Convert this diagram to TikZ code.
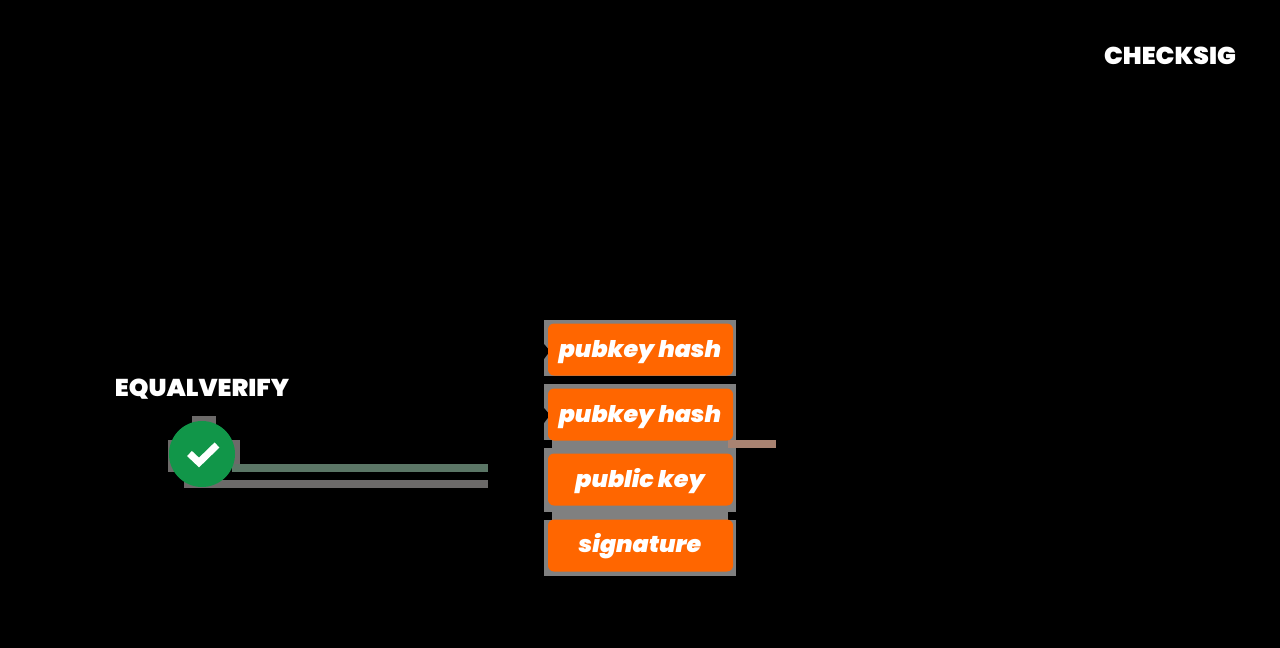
\documentclass[tikz,border=0pt]{standalone}
\usepackage{fontspec}
\newfontfamily\popf{Poppins}[BoldFont={Poppins Black},BoldItalicFont={Poppins Black Italic},FakeStretch=1.03]
\definecolor{fgray}{HTML}{808080}
\definecolor{forange}{HTML}{FF6600}
\definecolor{fgreen}{HTML}{119649}
\definecolor{lgreen}{HTML}{5B7666}
\definecolor{lgray}{HTML}{6C6A69}
\definecolor{lbrown}{HTML}{A98372}
\tikzset{x=1pt,y=-1pt,
  stackitem/.style={fill=forange,rounded corners=6pt,minimum width=185pt,minimum height=52pt,inner sep=0pt},
  stacktext/.style={text=white,inner sep=0pt,font=\popf\bfseries\itshape\fontsize{23}{25}\selectfont},
  oplabel/.style={text=white,inner sep=0pt,font=\popf\bfseries\fontsize{24.3}{26}\selectfont},
  backing/.style={fill=fgray,draw=none}}
\begin{document}
\begin{tikzpicture}
\useasboundingbox (0,0) rectangle (1280,648);
\fill[black] (0,0) rectangle (1280,648);
% grey backing of the stack
\fill[backing] (544,320) rectangle (736,376);
\fill[backing] (544,384) rectangle (736,440);
\fill[backing] (552,440) rectangle (728,448);
\fill[backing] (544,448) rectangle (736,512);
\fill[backing] (552,512) rectangle (728,520);
\fill[backing] (544,520) rectangle (736,576);
% lines
\fill[lbrown] (728,440) rectangle (776,448);
\fill[lgreen] (232,464) rectangle (488,472);
\fill[lgray] (184,480) rectangle (488,488);
% grey behind the tick
\fill[lgray] (192,416) rectangle (216,424);
\fill[lgray] (168,440) rectangle (240,464);
\fill[lgray] (168,464) rectangle (176,472);
% notches
\fill[black] (544,344) -- (550,351) -- (544,359) -- cycle;
\fill[black] (544,408) -- (550,415) -- (544,423) -- cycle;
% stack items
\node[stackitem] (hashb) at (640.5,349.5) {};
\node[stackitem] (hasha) at (640.5,414.5) {};
\node[stackitem] (pubkey) at (640.5,479.5) {};
\node[stackitem] (sig) at (640.5,545.5) {};
\node[stacktext] (hashbt) at (640,352) {pubkey hash};
\node[stacktext] (hashat) at (640,417) {pubkey hash};
\node[stacktext] (pubkeyt) at (640,481.5) {public key};
\node[stacktext] (sigt) at (640,546) {signature};
% tick
\node[circle,fill=fgreen,minimum size=66pt,inner sep=0pt] (ok) at (202,454) {};
\draw[white,line width=7pt] (189.5,453.5) -- (199,462.5) -- (217,445);
% labels
\node[oplabel] (eqv) at (202,389.5) {EQUALVERIFY};
\node[oplabel] (chk) at (1170,56) {CHECKSIG};
\end{tikzpicture}
\end{document}
